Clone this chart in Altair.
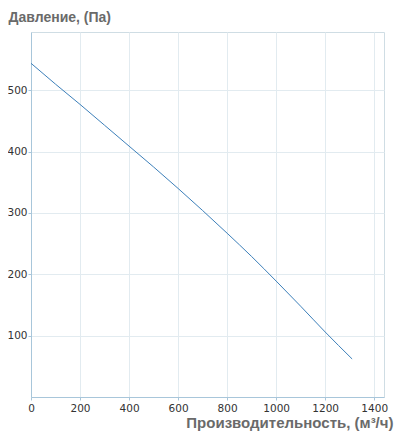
import altair as alt
import pandas as pd

flow = [0, 100, 200, 300, 400, 500, 600, 700, 800, 900, 1000, 1100, 1200, 1310]
pressure = [544, 510, 477, 443, 409, 375, 340, 304, 267, 229, 189, 148, 106, 62]
x_ticks = [0, 200, 400, 600, 800, 1000, 1200, 1400]
y_ticks = [100, 200, 300, 400, 500]

df = pd.DataFrame({"q": flow, "p": pressure})

chart = alt.Chart(df).mark_line(color="#3d80ba", strokeWidth=1, interpolate="monotone").encode(
    x=alt.X("q:Q",
            scale=alt.Scale(domain=[0, 1440], nice=False, zero=False),
            axis=alt.Axis(values=x_ticks, format="d", labelFlush=False,
                          title="Производительность, (м³/ч)",
                          titleAnchor="end", titleAlign="right", titleBaseline="alphabetic",
                          titleX=362, titleY=30, titleAngle=0, titleFontSize=15)),
    y=alt.Y("p:Q",
            scale=alt.Scale(domain=[0, 595], nice=False, zero=False),
            axis=alt.Axis(values=y_ticks, format="d", labelFlush=False,
                          title="Давление, (Па)",
                          titleAngle=0, titleAlign="left", titleBaseline="alphabetic",
                          titleX=-23, titleY=-11)),
).properties(
    width=353, height=365,
    autosize=alt.AutoSizeParams(type="none"),
    padding={"left": 23, "top": 24, "right": 10, "bottom": 34},
).configure_view(
    stroke="#cfdde4", strokeWidth=1
).configure_axis(
    grid=True, gridColor="#e2ebf0", gridWidth=1,
    domainColor="#a8c6da", domainWidth=1,
    tickColor="#a8c6da", tickSize=3, tickWidth=1,
    labelFont="DejaVu Sans", labelFontSize=10.5, labelColor="#333333",
    titleFont="Liberation Sans", titleFontSize=14, titleFontWeight="bold", titleColor="#6a6a6a",
).configure_axisX(labelPadding=3).configure_axisY(labelPadding=1)

chart.save("out.html", embed_options={"renderer": "svg", "actions": False})
